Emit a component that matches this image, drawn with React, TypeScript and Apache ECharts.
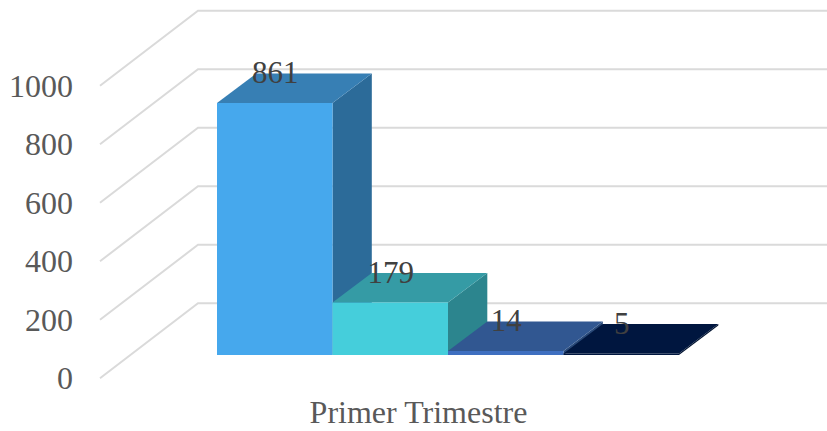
import React, { useEffect, useRef } from "react";
import * as echarts from "echarts";

const categories = ["Primer Trimestre"];
const yTicks = [0, 200, 400, 600, 800, 1000];
const seriesValues = [[861], [179], [14], [5]];
const frontColors = ["#46A8ED", "#45CEDB", "#3F6FC0", "#00163F"];
const topColors = ["#377FB4", "#359BA5", "#315791", "#00163F"];
const sideColors = ["#2C6B99", "#2C858E", "#284877", "#00122F"];

const FONT = "'Liberation Serif', 'Times New Roman', serif";
const WALL_DX = 98;
const WALL_DY = -75;
const WALL_RIGHT = 827;
const BAR_W = 115.5;
const BAR_START = 217;
const BAR_LIFT = 23.3;
const DEPTH_DX = 39.3;
const DEPTH_DY = -29.5;

const gridItem = (_params: any, api: any) => {
  const p = api.coord([0, api.value(0)]);
  const x0 = 100;
  const y0 = p[1];
  return {
    type: "polyline",
    shape: {
      points: [
        [x0, y0],
        [x0 + WALL_DX, y0 + WALL_DY],
        [WALL_RIGHT, y0 + WALL_DY],
      ],
    },
    style: { stroke: "#DADADA", lineWidth: 2, fill: "none" },
    silent: true,
  };
};

const barItem = (index: number) => (_params: any, api: any) => {
  const value = api.value(1);
  const top = api.coord([api.value(0), value])[1] - BAR_LIFT;
  const bottom = api.coord([api.value(0), 0])[1] - BAR_LIFT;
  const l = BAR_START + index * BAR_W;
  const r = l + BAR_W;
  const poly = (points: number[][], fill: string) => ({
    type: "polygon",
    shape: { points },
    style: { fill },
  });
  return {
    type: "group",
    children: [
      poly(
        [
          [r, top],
          [r + DEPTH_DX, top + DEPTH_DY],
          [r + DEPTH_DX, bottom + DEPTH_DY],
          [r, bottom],
        ],
        sideColors[index]
      ),
      poly(
        [
          [l, top],
          [r, top],
          [r + DEPTH_DX, top + DEPTH_DY],
          [l + DEPTH_DX, top + DEPTH_DY],
        ],
        topColors[index]
      ),
      poly(
        [
          [l, top],
          [r, top],
          [r, bottom],
          [l, bottom],
        ],
        frontColors[index]
      ),
      {
        type: "text",
        style: {
          text: String(value),
          x: (l + r) / 2 + 0.5,
          y: top + DEPTH_DY - 1,
          align: "center",
          verticalAlign: "middle",
          font: `31px ${FONT}`,
          fill: "#404040",
        },
      },
    ],
  };
};

export default function App() {
  const ref = useRef<HTMLDivElement>(null);
  useEffect(() => {
    const chart = echarts.init(ref.current!, undefined, { renderer: "svg" });
    chart.setOption({
      animation: false,
      backgroundColor: "#ffffff",
      grid: { left: 100, width: 637, top: 85.7, bottom: 52.7, containLabel: false },
      xAxis: {
        type: "category",
        data: categories,
        axisLine: { show: false },
        axisTick: { show: false },
        axisLabel: {
          fontFamily: FONT,
          fontSize: 32,
          color: "#595959",
          margin: 18,
        },
      },
      yAxis: {
        type: "value",
        min: 0,
        max: 1000,
        interval: 200,
        axisLine: { show: false },
        axisTick: { show: false },
        splitLine: { show: false },
        axisLabel: {
          fontFamily: FONT,
          fontSize: 32,
          color: "#595959",
          margin: 27,
          formatter: (v: number) => String(v),
        },
      },
      series: [
        {
          type: "custom",
          name: "grid",
          clip: false,
          silent: true,
          encode: { y: 0 },
          data: yTicks.map((t) => [t]),
          renderItem: gridItem,
        },
        ...seriesValues.map((vals, i) => ({
          type: "custom",
          clip: false,
          silent: true,
          encode: { x: 0, y: 1 },
          data: vals.map((v, c) => [c, v]),
          renderItem: barItem(i),
        })),
      ],
    });
    return () => chart.dispose();
  }, []);
  return (
    <div
      ref={ref}
      style={{ position: "absolute", left: 0, top: 0, width: 827, height: 431 }}
    />
  );
}
